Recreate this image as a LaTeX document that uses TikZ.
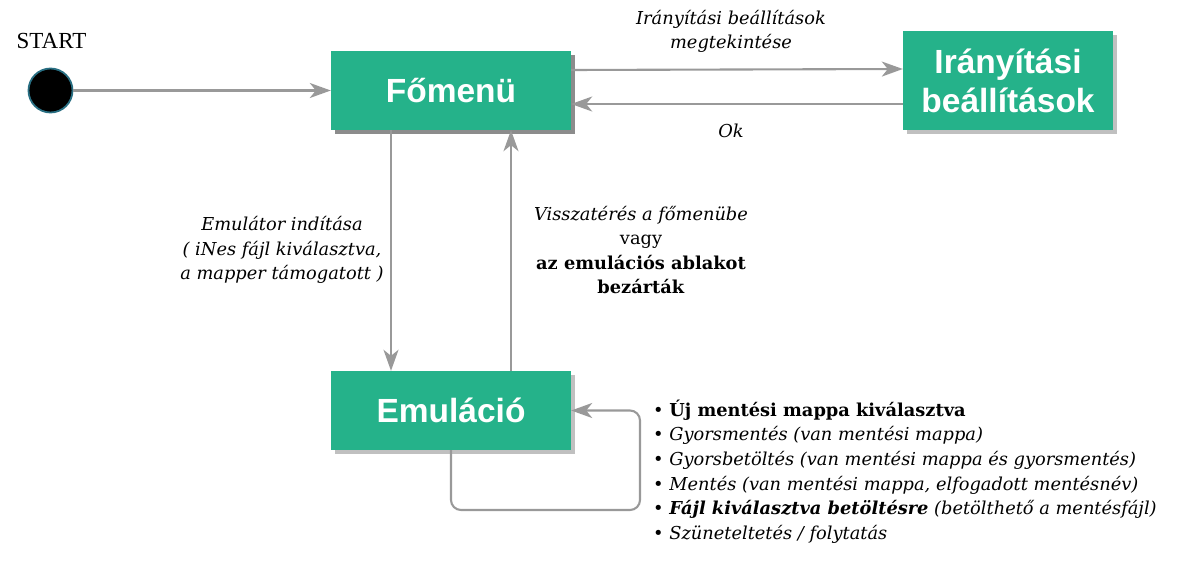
\documentclass[tikz,border=0pt]{standalone}
\usepackage{fontspec}
\setmainfont{DejaVu Serif}
\setsansfont{Liberation Sans}
\newfontfamily\startfont{Liberation Serif}
\usetikzlibrary{positioning}
\usetikzlibrary{calc}
\usetikzlibrary{shadows}
\usetikzlibrary{arrows.meta}
\definecolor{stategreen}{RGB}{37,178,138}
\definecolor{flowgray}{RGB}{153,153,153}
\definecolor{darkshadow}{RGB}{140,140,140}
\definecolor{lightshadow}{RGB}{192,192,192}
\definecolor{startrim}{RGB}{40,110,130}
\newcommand{\notesize}{\fontsize{17.8}{24.6}\selectfont}
\tikzset{%
  flow/.style = {-{Stealth[length=21pt,width=15pt,inset=6pt]},
        draw=flowgray,line width=2.1pt},
  state/.style = {rectangle,fill=stategreen,text=white,inner sep=0pt,
        font=\sffamily\bfseries\fontsize{33.5}{39}\selectfont,align=center,
        drop shadow={shadow xshift=4pt,shadow yshift=-4pt,fill=#1,opacity=1}},
  state/.default = lightshadow,
  note/.style = {font=\notesize,align=center,inner sep=0pt}
}

\begin{document}
\begin{tikzpicture}[x=1pt,y=-1pt]
    \useasboundingbox (0,0) rectangle (1182,572);
    % states
    \node[font=\startfont\fontsize{23}{23}\selectfont] (startlabel) at (51.5,41) {START};
    \node[circle,fill=black,draw=startrim,line width=1.8pt,minimum size=44pt,
        inner sep=0pt] (start) at (50.5,90.5) {};
    \node[state=darkshadow,minimum width=240pt,minimum height=79pt] (menu)
        at (451,90.5) {Főmenü};
    \node[state,minimum width=210pt,minimum height=99pt] (ctrl)
        at (1008,80.5) {Irányítási\\beállítások};
    \node[state,minimum width=240pt,minimum height=79pt] (emu)
        at (451,410.5) {Emuláció};
    % transitions
    \draw[flow] (start) -- (menu);
    \draw[flow] ($(menu.east)+(0,-20.5)$) -- ($(ctrl.west)+(0,-11.5)$);
    \draw[flow] ($(ctrl.west)+(0,23.5)$) -- ($(menu.east)+(0,13.5)$);
    \draw[flow] ($(menu.south)+(-60,0)$) -- ($(emu.north)+(-60,0)$);
    \draw[flow] ($(emu.north)+(60,0)$) -- ($(menu.south)+(60,0)$);
    \coordinate (loopturn) at (640,510);
    \draw[flow,rounded corners=10pt] (emu.south) |- (loopturn) |- (emu.east);
    % labels
    \node[note,font=\notesize\itshape] (ctrllabel) at (731,31.5)
        {Irányítási beállítások\\megtekintése};
    \node[note,font=\notesize\itshape] (oklabel) at (731,131) {Ok};
    \node[note,font=\notesize\itshape] (startemu) at (282,250)
        {Emulátor indítása\\( iNes fájl kiválasztva,\\a mapper támogatott )};
    \node[note] (backlabel) at (641,250)
        {\textit{Visszatérés a főmenübe}\\vagy\\\textbf{az emulációs ablakot}\\\textbf{bezárták}};
    \node[note,align=left,anchor=west] (events) at (653,471.5)
        {• \textbf{Új mentési mappa kiválasztva}\\
         • \textit{Gyorsmentés (van mentési mappa)}\\
         • \textit{Gyorsbetöltés (van mentési mappa és gyorsmentés)}\\
         • \textit{Mentés (van mentési mappa, elfogadott mentésnév)}\\
         • \textbf{\textit{Fájl kiválasztva betöltésre}} \textit{(betölthető a mentésfájl)}\\
         • \textit{Szüneteltetés / folytatás}};
\end{tikzpicture}
\end{document}
